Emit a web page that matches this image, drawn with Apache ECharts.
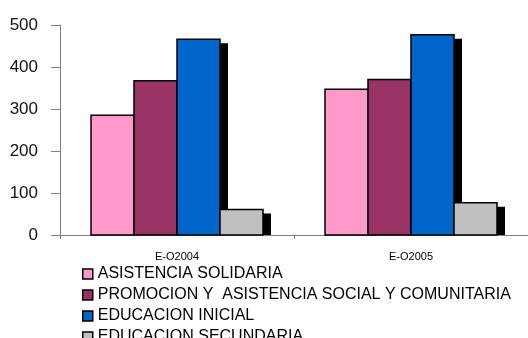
<!DOCTYPE html>
<html>
<head>
<meta charset="utf-8">
<script src="https://cdn.jsdelivr.net/npm/echarts@6/dist/echarts.min.js"></script>
<style>
html,body{margin:0;padding:0;background:#fff;}
#chart{width:528px;height:338px;}
</style>
</head>
<body>
<div id="chart"></div>
<script>
const categories = ['E-O2004', 'E-O2005'];
const seriesNames = [
  'ASISTENCIA SOLIDARIA',
  'PROMOCION Y  ASISTENCIA SOCIAL Y COMUNITARIA',
  'EDUCACION INICIAL',
  'EDUCACION SECUNDARIA'
];
const asistenciaSolidaria = [285, 347];
const promocionAsistencia = [367, 370];
const educacionInicial = [466, 477];
const educacionSecundaria = [61, 77];
const colors = ['#FF99CC', '#993366', '#0066CC', '#C0C0C0'];
const yTicks = [0, 100, 200, 300, 400, 500];

const values = [asistenciaSolidaria, promocionAsistencia, educacionInicial, educacionSecundaria];
const FONT = '"Liberation Sans", Arial, sans-serif';
const BAR_W = 43;
const SH_X = 8, SH_Y = 4;

function makeRender(seriesIndex) {
  return function (params, api) {
    const base = api.coord([api.value(0), 0]);
    const top = api.coord([api.value(0), api.value(1)]);
    const left = base[0] + (seriesIndex - values.length / 2) * BAR_W;
    const h = base[1] - top[1];
    return {
      type: 'group',
      children: [
        {
          type: 'rect',
          shape: {x: left + SH_X, y: top[1] + SH_Y, width: BAR_W, height: Math.max(0, h - SH_Y)},
          style: {fill: '#000'}
        },
        {
          type: 'rect',
          shape: {x: left, y: top[1], width: BAR_W, height: h},
          style: {fill: api.visual('color'), stroke: '#000', lineWidth: 1.5}
        }
      ]
    };
  };
}

const chart = echarts.init(document.getElementById('chart'), null, {renderer: 'canvas'});
chart.setOption({
  animation: false,
  backgroundColor: '#fff',
  grid: {left: 60, top: 25, width: 472, height: 210, containLabel: false},
  legend: {
    orient: 'vertical',
    left: 82,
    top: 266,
    height: 120,
    padding: 0,
    itemWidth: 10,
    itemHeight: 10,
    itemGap: 5,
    icon: 'rect',
    itemStyle: {borderColor: '#000', borderWidth: 1.5},
    textStyle: {fontFamily: FONT, fontSize: 16, lineHeight: 16, color: '#000'},
    data: seriesNames
  },
  xAxis: {
    type: 'category',
    data: categories,
    axisLine: {lineStyle: {color: '#808080', width: 1}},
    axisTick: {show: true, length: 4, lineStyle: {color: '#808080'}},
    axisLabel: {fontFamily: FONT, fontSize: 11, color: '#000', margin: 16},
    splitLine: {show: false}
  },
  yAxis: {
    type: 'value',
    min: yTicks[0],
    max: yTicks[yTicks.length - 1],
    interval: 100,
    axisLine: {show: true, lineStyle: {color: '#808080', width: 1}},
    axisTick: {show: true, length: 9, lineStyle: {color: '#808080'}},
    axisLabel: {fontFamily: FONT, fontSize: 17, color: '#111', margin: 22},
    splitLine: {show: false}
  },
  series: seriesNames.map((name, i) => ({
    name: name,
    type: 'custom',
    renderItem: makeRender(i),
    encode: {x: 0, y: 1},
    itemStyle: {color: colors[i]},
    data: values[i].map((v, k) => [k, v])
  }))
});
</script>
</body>
</html>
